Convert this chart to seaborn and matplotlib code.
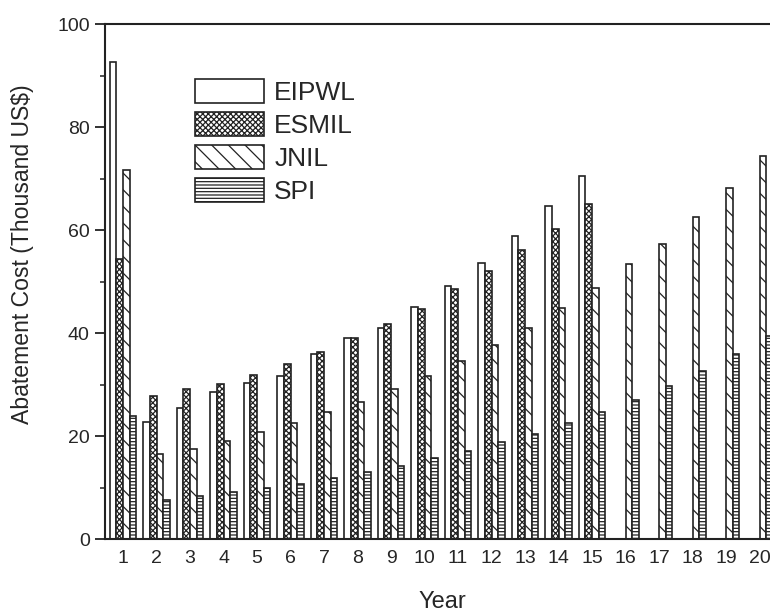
import numpy as np
import pandas as pd
import matplotlib
matplotlib.use("Agg")
import matplotlib.pyplot as plt
import seaborn as sns
from matplotlib.ticker import MultipleLocator

years = [str(i) for i in range(1, 21)]
series = ["EIPWL", "ESMIL", "JNIL", "SPI"]
nan = np.nan
eipwl = [92.8, 22.8, 25.4, 28.6, 30.4, 31.7, 36.0, 39.0, 41.1, 45.0,
         49.1, 53.7, 58.8, 64.7, 70.5, nan, nan, nan, nan, nan]
esmil = [54.5, 27.8, 29.2, 30.1, 31.8, 34.0, 36.4, 39.0, 41.7, 44.8,
         48.5, 52.1, 56.2, 60.3, 65.1, nan, nan, nan, nan, nan]
jnil = [71.8, 16.5, 17.4, 19.0, 20.8, 22.6, 24.6, 26.7, 29.2, 31.7,
        34.6, 37.7, 41.1, 44.9, 48.8, 53.4, 57.3, 62.5, 68.2, 74.4]
spi = [24.0, 7.6, 8.3, 9.1, 10.0, 10.7, 11.9, 13.1, 14.2, 15.7,
       17.1, 18.8, 20.5, 22.6, 24.6, 27.0, 29.8, 32.7, 35.9, 39.4]
hatches = ["", "xxxxxx", "\\\\", "-----"]

sns.set_style("ticks")
plt.rcParams["font.family"] = ["Liberation Sans", "DejaVu Sans"]
plt.rcParams["hatch.linewidth"] = 0.9

df = pd.DataFrame({
    "Year": years * 4,
    "Method": [s for s in series for _ in years],
    "Cost": eipwl + esmil + jnil + spi,
})

fig = plt.figure(figsize=(7.7, 6.14), dpi=100)
ax = fig.add_axes([105 / 770, 75 / 614, 675 / 770, 514.5 / 614])

sns.barplot(data=df, x="Year", y="Cost", hue="Method", order=years,
            hue_order=series, palette=["white"] * 4, width=0.8,
            edgecolor="#222222", linewidth=1.2, saturation=1, ax=ax,
            legend=False)

handles = []
for cont, h in zip(ax.containers, hatches):
    for p in cont.patches:
        p.set_hatch(h)
        p.set_edgecolor("#222222")
    handles.append(cont.patches[0])

ax.set_xlim(-0.54, 19.61)
ax.set_ylim(0, 100)
ax.yaxis.set_major_locator(MultipleLocator(20))
ax.yaxis.set_minor_locator(MultipleLocator(10))
ax.tick_params(axis="y", which="major", length=7, width=1.3, direction="out",
               labelsize=14, pad=4, color="#222222")
ax.tick_params(axis="y", which="minor", length=3.5, width=1.1, direction="out",
               color="#222222")
ax.tick_params(axis="x", length=0, labelsize=14, pad=8)

for side in ["left", "bottom", "top", "right"]:
    ax.spines[side].set_visible(True)
    ax.spines[side].set_linewidth(1.5)
    ax.spines[side].set_color("#222222")

ax.set_xlabel("Year", fontsize=17, labelpad=17)
ax.set_ylabel("Abatement Cost (Thousand US$)", fontsize=16.6)
ax.yaxis.set_label_coords(-0.105, 0.554)

leg = ax.legend(handles, series, loc="upper left",
                bbox_to_anchor=((195 - 105) / 675, 1 - (79 - 24.5) / 514.5),
                frameon=False, fontsize=19, handlelength=2.6,
                handleheight=1.0, handletextpad=0.4, labelspacing=0.27,
                borderpad=0, borderaxespad=0)

fig.savefig("out.png", dpi=100)
